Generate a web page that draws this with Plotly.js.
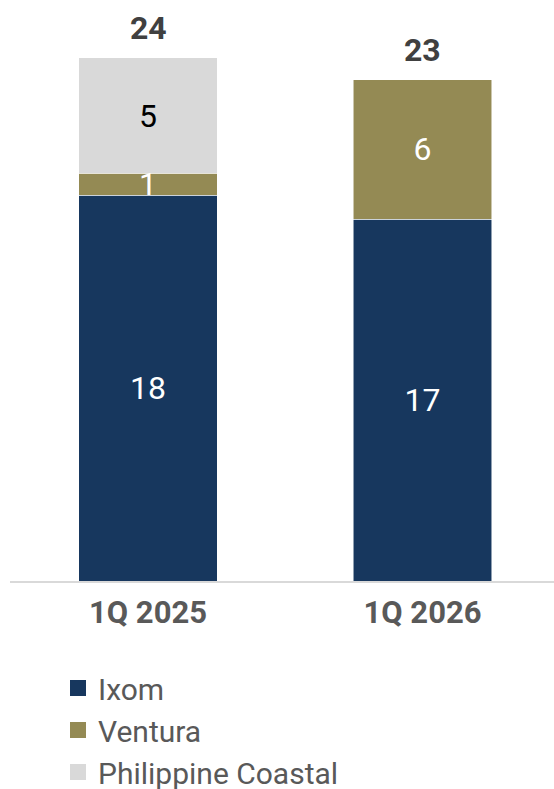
<!DOCTYPE html>
<html>
<head>
<meta charset="utf-8">
<script src="https://cdn.plot.ly/plotly-3.0.1.min.js"></script>
<style>html,body{margin:0;padding:0;background:#fff;}#chart{width:554px;height:789px;}</style>
</head>
<body>
<div id="chart"></div>
<script>
// Data
const categories = ['1Q 2025', '1Q 2026'];
const ixom = [17.7, 16.6];
const ventura = [1.0, 6.4];
const philippineCoastal = [5.3, 0];
const seriesNames = ['Ixom', 'Ventura', 'Philippine Coastal'];

const colors = ['#17375E', '#948A54', '#D9D9D9'];
const textColors = ['#FFFFFF', '#FFFFFF', '#000000'];
const FONT = 'Roboto, "Open Sans", sans-serif';

const series = [ixom, ventura, philippineCoastal];
const totals = categories.map((c, i) => series.reduce((s, arr) => s + arr[i], 0));

const traces = [];
series.forEach((vals, k) => {
  traces.push({
    type: 'bar',
    name: seriesNames[k],
    x: categories,
    y: vals.map(v => v === 0 ? null : v),
    width: 0.503,
    marker: {color: colors[k], line: {color: 'rgba(255,255,255,0.7)', width: 0.75}},
    texttemplate: '%{y:.0f}',
    textposition: 'inside',
    insidetextanchor: 'middle',
    textangle: 0,
    insidetextfont: {family: FONT, size: 32, color: textColors[k]},
    showlegend: false,
    hoverinfo: 'skip'
  });
});
// legend entries (on a hidden secondary axis pair)
series.forEach((vals, k) => {
  traces.push({
    type: 'scatter',
    mode: 'markers',
    name: seriesNames[k],
    x: [null], y: [null],
    xaxis: 'x2', yaxis: 'y2',
    marker: {symbol: 'square', size: 19, color: colors[k]},
    showlegend: true,
    hoverinfo: 'skip'
  });
});

const annotations = categories.map((c, i) => ({
  x: c, y: totals[i], xref: 'x', yref: 'y',
  text: '<b>' + Math.round(totals[i]) + '</b>',
  showarrow: false, yanchor: 'middle', yshift: 30,
  font: {family: FONT, size: 32, color: '#404040'}
}));

const layout = {
  width: 554, height: 789,
  margin: {l: 10, r: 0, t: 10, b: 208, pad: 0, autoexpand: false},
  paper_bgcolor: '#ffffff', plot_bgcolor: '#ffffff',
  barmode: 'stack',
  showlegend: true,
  uniformtext: {mode: 'show', minsize: 32},
  font: {family: FONT, color: '#595959'},
  xaxis: {
    type: 'category',
    categoryorder: 'array', categoryarray: categories,
    range: [-0.5027, 1.479],
    showline: true, linecolor: '#D9D9D9', linewidth: 2,
    showgrid: false, zeroline: false, ticks: '',
    tickangle: 0,
    ticklabelstandoff: 3,
    tickfont: {family: FONT, size: 31, color: '#595959', weight: 'bold'},
    fixedrange: true
  },
  yaxis: {
    range: [0, 26.2],
    visible: false, showgrid: false, zeroline: false,
    fixedrange: true
  },
  xaxis2: {visible: false, overlaying: 'x', range: [0, 1]},
  yaxis2: {visible: false, overlaying: 'y', range: [0, 1]},
  legend: {
    xref: 'container', yref: 'container',
    x: 58/554, y: 1 - 662/789, xanchor: 'left', yanchor: 'top',
    orientation: 'v',
    traceorder: 'normal',
    font: {family: FONT, size: 30, color: '#595959'},
    bgcolor: 'rgba(0,0,0,0)', borderwidth: 0,
    tracegroupgap: 0
  },
  annotations: annotations
};

Plotly.newPlot('chart', traces, layout, {displayModeBar: false, staticPlot: true});
</script>
</body>
</html>
